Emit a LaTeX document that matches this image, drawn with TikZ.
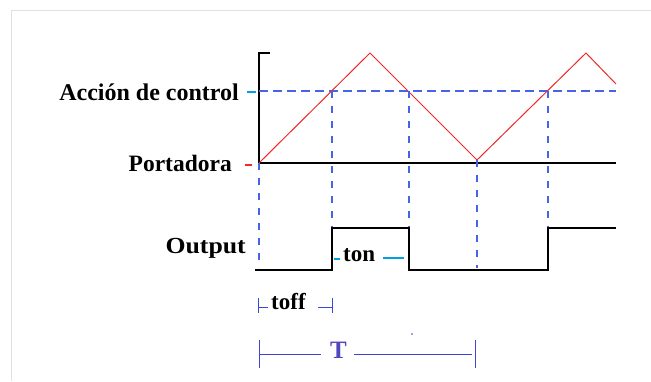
\documentclass[tikz,border=0pt]{standalone}
\usepackage{fontspec}
\usepackage{graphicx}
\setmainfont{Liberation Serif}
\definecolor{royal}{RGB}{70,100,230}
\definecolor{measblue}{RGB}{60,70,210}
\definecolor{tickcyan}{RGB}{0,160,225}
\definecolor{carrierred}{RGB}{240,40,40}
\definecolor{frame}{RGB}{225,225,225}
\definecolor{tcol}{RGB}{80,70,190}
\begin{document}
\begin{tikzpicture}[x=1pt,y=-1pt,
  lbl/.style={font=\bfseries, inner sep=0pt, text=black},
  axisline/.style={line width=2pt, black},
  sig/.style={line width=1.8pt, black, line join=miter},
  carrier/.style={carrierred, line width=1pt},
  hdash/.style={royal, line width=1.1pt, dash pattern=on 9pt off 5pt},
  vdash/.style={royal, line width=1.1pt, dash pattern=on 7pt off 8pt},
  meas/.style={measblue, line width=1pt},
  tickc/.style={tickcyan, line width=1.3pt},
]
\useasboundingbox (0,0) rectangle (651,381);
\fill[white] (0,0) rectangle (651,381);
% frame
\draw[frame, line width=0.8pt] (11,381) -- (11,10) -- (651,10);

% coordinates
\coordinate (axtop) at (259,53);
\coordinate (axtick) at (270,53);
\coordinate (origin) at (259,163);
\coordinate (carend) at (616,163);
\coordinate (acl) at (259,91);
\coordinate (acr) at (616,91);
\coordinate (p1) at (370,53);
\coordinate (p2) at (477,160);
\coordinate (p3) at (586,53);
\coordinate (p4) at (616,84);

% axis
\draw[axisline] (axtick) -- (axtop) -- (origin) -- (carend);
% control action level
\draw[hdash] (acl) -- (acr);
% carrier
\draw[carrier] (origin) -- (p1) -- (p2) -- (p3) -- (p4);

% vertical dashed guides
\coordinate (v0a) at (259,163); \coordinate (v0b) at (259,268);
\coordinate (v1a) at (332,91);  \coordinate (v1b) at (332,228);
\coordinate (v2a) at (409,91);  \coordinate (v2b) at (409,228);
\coordinate (v3a) at (477,160); \coordinate (v3b) at (477,268);
\coordinate (v4a) at (548,91);  \coordinate (v4b) at (548,228);
\draw[vdash] (v0a) -- (v0b);
\draw[vdash] (v1a) -- (v1b);
\draw[vdash] (v2a) -- (v2b);
\draw[vdash] (v3a) -- (v3b);
\draw[vdash] (v4a) -- (v4b);

% output signal
\coordinate (o0) at (255,270);
\coordinate (o1) at (332,270);
\coordinate (o2) at (332,228);
\coordinate (o3) at (409,228);
\coordinate (o4) at (409,270);
\coordinate (o5) at (548,270);
\coordinate (o6) at (548,228);
\coordinate (o7) at (616,228);
\draw[sig] (o0) -- (o1) -- (o2) -- (o3) -- (o4) -- (o5) -- (o6) -- (o7);

% labels
\node[lbl, anchor=base east, font=\fontsize{24}{28}\selectfont\bfseries] (accion) at (239,100) {Acción de control};
\node[lbl, anchor=base east, font=\fontsize{23.5}{28}\selectfont\bfseries] (portadora) at (232,171) {Portadora};
\node[lbl, anchor=base east, font=\fontsize{23}{26}\selectfont\bfseries] (output) at (246,253) {\scalebox{1.12}[1]{Output}};

% small level ticks
\coordinate (ta1) at (247,92); \coordinate (ta2) at (256,92);
\draw[tickc] (ta1) -- (ta2);
\coordinate (tp1) at (245,165); \coordinate (tp2) at (252,165);
\draw[carrierred, line width=1.3pt] (tp1) -- (tp2);

% ton
\node[lbl, anchor=base west, font=\fontsize{23}{26}\selectfont\bfseries] (ton) at (343,261) {ton};
\coordinate (tn1) at (334,259); \coordinate (tn2) at (340,259);
\draw[tickc] (tn1) -- (tn2);
\coordinate (tn3) at (383,258); \coordinate (tn4) at (404,258);
\draw[tickc] (tn3) -- (tn4);

% toff
\node[lbl, anchor=base west, font=\fontsize{23}{26}\selectfont\bfseries] (toff) at (271,309) {toff};
\coordinate (f0a) at (258,298); \coordinate (f0b) at (258,313);
\coordinate (f1a) at (332,298); \coordinate (f1b) at (332,313);
\coordinate (fl1) at (258,307); \coordinate (fl2) at (268,307);
\coordinate (fr1) at (318,307); \coordinate (fr2) at (332,307);
\draw[meas] (f0a) -- (f0b);
\draw[meas] (f1a) -- (f1b);
\draw[meas] (fl1) -- (fl2);
\draw[meas] (fr1) -- (fr2);

% T
\node[lbl, anchor=base west, text=tcol, font=\fontsize{25}{28}\selectfont\bfseries] (T) at (330,358) {T};
\coordinate (T0a) at (259,340); \coordinate (T0b) at (259,368);
\coordinate (T1a) at (475,340); \coordinate (T1b) at (475,368);
\coordinate (Tl1) at (259,354); \coordinate (Tl2) at (321,354);
\coordinate (Tr1) at (354,354); \coordinate (Tr2) at (472,354);
\draw[meas] (T0a) -- (T0b);
\draw[meas] (T1a) -- (T1b);
\draw[meas] (Tl1) -- (Tl2);
\draw[meas] (Tr1) -- (Tr2);

% stray dot
\coordinate (dot) at (412,334);
\fill[measblue] (dot) circle (0.9);
\end{tikzpicture}
\end{document}
